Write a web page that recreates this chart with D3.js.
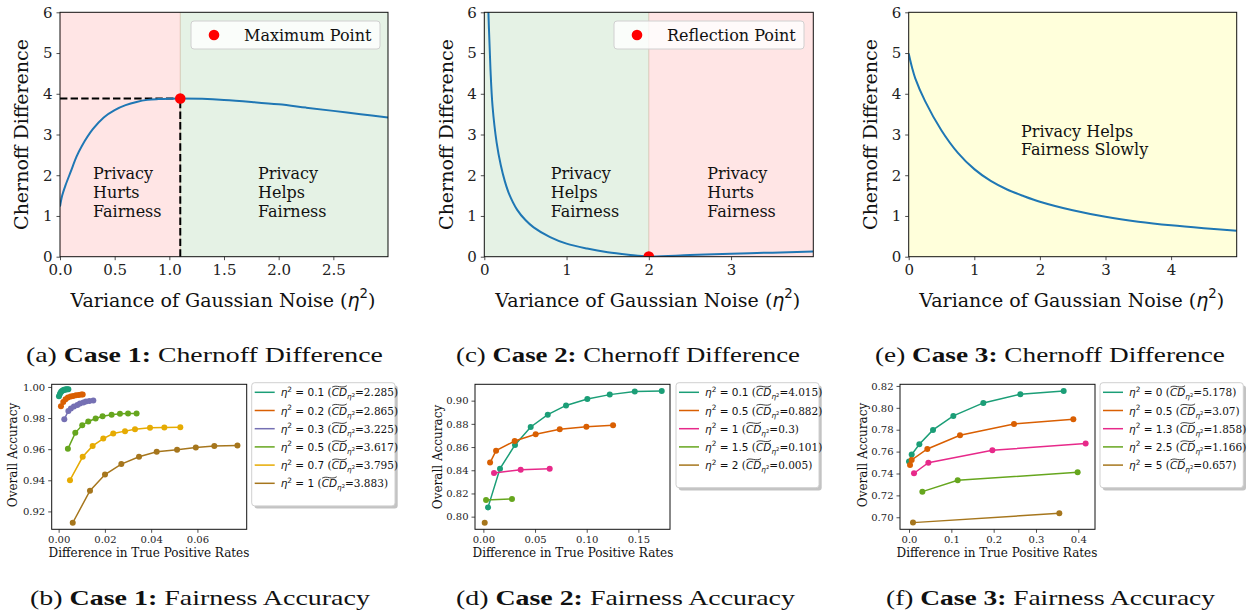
<!DOCTYPE html>
<html>
<head>
<meta charset="utf-8">
<script src="https://cdn.jsdelivr.net/npm/d3@7"></script>
<style>
  body { margin: 0; background: #fff; }
  text { white-space: pre; }
</style>
</head>
<body>
<svg id="fig" width="1249" height="612"></svg>
<script>
// ---- data ----

// (a) case 1 Chernoff difference curve
var caseOneX = [0, 0.02, 0.05, 0.1, 0.15, 0.2, 0.3, 0.4, 0.5, 0.6, 0.7, 0.8, 0.9, 1.0, 1.1, 1.3, 1.5, 1.75, 2.0, 2.25, 2.5, 2.75, 3.0];
var caseOneY = [1.23, 1.5, 1.75, 2.1, 2.45, 2.72, 3.13, 3.42, 3.6, 3.72, 3.8, 3.85, 3.87, 3.88, 3.883, 3.875, 3.85, 3.8, 3.74, 3.66, 3.58, 3.5, 3.42];
var caseOneMax = [1.1, 3.883];

// (c) case 2 Chernoff difference curve
var caseTwoX = [0.03, 0.05, 0.075, 0.1, 0.15, 0.2, 0.25, 0.3, 0.4, 0.5, 0.6, 0.8, 1.0, 1.25, 1.5, 1.75, 2.0, 2.5, 3.0, 3.5, 4.0];
var caseTwoY = [7.5, 6.0, 4.6, 3.7, 2.8, 2.25, 1.85, 1.55, 1.15, 0.9, 0.72, 0.48, 0.32, 0.2, 0.11, 0.05, 0.005, 0.04, 0.075, 0.1, 0.13];
var caseTwoReflect = [2, 0.005];

// (e) case 3 Chernoff difference curve
var caseThreeX = [0, 0.05, 0.1, 0.25, 0.5, 0.75, 1, 1.25, 1.5, 1.75, 2, 2.5, 3, 3.5, 4, 4.5, 5];
var caseThreeY = [4.99, 4.65, 4.38, 3.82, 3.1, 2.55, 2.15, 1.86, 1.65, 1.49, 1.35, 1.14, 0.98, 0.86, 0.77, 0.7, 0.64];

// (b) case 1 fairness / accuracy
var bEta = ["0.1", "0.2", "0.3", "0.5", "0.7", "1"];
var bCD = ["2.285", "2.865", "3.225", "3.617", "3.795", "3.883"];
var bX = [
  [0.00014, 0.00058, 0.001, 0.00144, 0.0019, 0.0023, 0.0027, 0.0032, 0.0036, 0.0042],
  [0.001, 0.002, 0.003, 0.004, 0.0052, 0.0063, 0.0075, 0.0087, 0.0098, 0.0104],
  [0.00245, 0.0042, 0.0053, 0.0066, 0.0081, 0.0092, 0.0107, 0.0118, 0.0133, 0.015],
  [0.004, 0.0072, 0.0102, 0.0128, 0.016, 0.019, 0.0229, 0.0265, 0.03, 0.0337],
  [0.0049, 0.0104, 0.0147, 0.0193, 0.0236, 0.0287, 0.033, 0.0395, 0.0457, 0.0526],
  [0.0061, 0.01355, 0.02004, 0.0271, 0.03475, 0.0424, 0.0512, 0.0593, 0.0673, 0.0773]
];
var bY = [
  [0.994, 0.9957, 0.9968, 0.9974, 0.9979, 0.9981, 0.9983, 0.9983, 0.9985, 0.9985],
  [0.9876, 0.9904, 0.9921, 0.9932, 0.9938, 0.9942, 0.9947, 0.9949, 0.9951, 0.9951],
  [0.9793, 0.9846, 0.9861, 0.9874, 0.9884, 0.9893, 0.99, 0.9906, 0.991, 0.9913],
  [0.9602, 0.9705, 0.9754, 0.9778, 0.9797, 0.9812, 0.9822, 0.9827, 0.9829, 0.9829],
  [0.9401, 0.9551, 0.9621, 0.9668, 0.9701, 0.9716, 0.9728, 0.9737, 0.9739, 0.9741],
  [0.9127, 0.9333, 0.9437, 0.9504, 0.9551, 0.9583, 0.9596, 0.9611, 0.9621, 0.9624]
];
var bColors = ["#1b9e77", "#d95f02", "#7570b3", "#66a61e", "#e6ab02", "#a6761d"];

// (d) case 2 fairness / accuracy
var dEta = ["0.1", "0.5", "1", "1.5", "2"];
var dCD = ["4.015", "0.882", "0.3", "0.101", "0.005"];
var dX = [
  [0.0045, 0.0161, 0.0306, 0.0458, 0.0623, 0.08, 0.1006, 0.1223, 0.1465, 0.1726],
  [0.0065, 0.0123, 0.0303, 0.0506, 0.0739, 0.0997, 0.1255],
  [0.0103, 0.0361, 0.0642],
  [0.0026, 0.0277],
  [0.0013]
];
var dY = [
  [0.808, 0.8414, 0.8618, 0.8773, 0.8879, 0.8959, 0.9014, 0.9052, 0.9078, 0.9083],
  [0.8466, 0.8569, 0.8652, 0.871, 0.8753, 0.8776, 0.8787],
  [0.8376, 0.8405, 0.8414],
  [0.8144, 0.8152],
  [0.7948]
];
var dColors = ["#1b9e77", "#d95f02", "#e7298a", "#66a61e", "#a6761d"];

// (f) case 3 fairness / accuracy
var fEta = ["0", "0.5", "1.3", "2.5", "5"];
var fCD = ["5.178", "3.07", "1.858", "1.166", "0.657"];
var fX = [
  [0.0, 0.0063, 0.0244, 0.0567, 0.1047, 0.1756, 0.263, 0.3654],
  [0.0024, 0.0063, 0.0433, 0.1205, 0.248, 0.3882],
  [0.0118, 0.0457, 0.1969, 0.4173],
  [0.0315, 0.115, 0.3984],
  [0.0094, 0.3551]
];
var fY = [
  [0.7509, 0.7573, 0.7667, 0.7798, 0.7926, 0.8045, 0.8124, 0.8154],
  [0.7478, 0.7524, 0.7624, 0.7749, 0.7853, 0.7895],
  [0.7402, 0.7499, 0.7612, 0.7673],
  [0.7234, 0.7338, 0.7411],
  [0.6951, 0.7036]
];
var fColors = ["#1b9e77", "#d95f02", "#e7298a", "#66a61e", "#a6761d"];

// ---- drawing ----
var serif = "DejaVu Serif", sans = "DejaVu Sans", capFont = "Liberation Serif";
var svg = d3.select("#fig");
var clipCount = 0;

// write a run of text pieces one after another (for the little math bits)
function mathRun(g, x, y, parts, size) {
  var cx = x;
  parts.forEach(function(p) {
    var fs = size * (p.s || 1);
    var t = g.append("text")
      .attr("x", cx).attr("y", y + (p.dy || 0) * size)
      .attr("font-family", p.f || serif)
      .attr("font-size", fs)
      .attr("font-style", p.i ? "italic" : "normal")
      .attr("font-weight", p.b ? "bold" : "normal")
      .attr("fill", "#111")
      .text(p.t);
    var w = t.node().getComputedTextLength();
    if (p.tilde) {
      var ty = y - size * 0.93;
      g.append("path")
        .attr("d", "M" + (cx + 0.5) + "," + (ty + 0.6) +
          " C" + (cx + w * 0.35) + "," + (ty - 2.2) + " " + (cx + w * 0.65) + "," + (ty + 2.6) + " " + (cx + w - 0.3) + "," + (ty - 0.8))
        .attr("fill", "none").attr("stroke", "#111").attr("stroke-width", 0.8);
    }
    cx += w;
  });
  return cx;
}

// centred run; if width is given the run is stretched sideways to it
function centeredRun(x, y, parts, size, width) {
  var g = svg.append("g");
  var w = mathRun(g, 0, 0, parts, size);
  var k = width ? width / w : 1;
  g.attr("transform", "translate(" + (x - w * k / 2) + "," + y + ") scale(" + k + ",1)");
  return g;
}

function etaParts(val, cd) {
  return [
    {t: "η", f: sans, i: true},
    {t: "2", f: sans, s: 0.7, dy: -0.42},
    {t: " = " + val, f: sans},
    {t: " (", f: serif},
    {t: "CD", f: sans, i: true, tilde: true},
    {t: "η", f: sans, i: true, s: 0.7, dy: 0.3},
    {t: "2", f: sans, s: 0.5, dy: 0.02},
    {t: "=" + cd + ")", f: serif}
  ];
}

function styleAxis(ax, size) {
  ax.select(".domain").remove();
  ax.selectAll(".tick line").attr("stroke", "#222").attr("stroke-width", 0.8);
  ax.selectAll(".tick text").attr("font-family", serif).attr("font-size", size).attr("fill", "#222");
}

function frame(g, l, r, t, b) {
  g.append("rect").attr("x", l).attr("y", t).attr("width", r - l).attr("height", b - t)
    .attr("fill", "none").attr("stroke", "#111").attr("stroke-width", 1);
}

function makeClip(l, r, t, b) {
  var id = "clip" + (clipCount++);
  svg.append("clipPath").attr("id", id)
    .append("rect").attr("x", l).attr("y", t).attr("width", r - l).attr("height", b - t);
  return "url(#" + id + ")";
}

// top row: Chernoff difference
var topT = 12.3, topB = 256.7;

function chernoffPanel(cfg) {
  var x = d3.scaleLinear().domain(cfg.xDomain).range([cfg.left, cfg.right]);
  var y = d3.scaleLinear().domain([0, 6]).range([topB, topT]);
  var g = svg.append("g");
  var clip = makeClip(cfg.left, cfg.right, topT, topB);

  cfg.spans.forEach(function(s) {
    g.append("rect")
      .attr("x", x(s[0])).attr("width", x(s[1]) - x(s[0]))
      .attr("y", topT).attr("height", topB - topT)
      .attr("fill", s[2]).attr("fill-opacity", s[3])
      .attr("stroke", s[2]).attr("stroke-opacity", s[3]).attr("stroke-width", 1)
      .attr("clip-path", clip);
  });

  cfg.notes.forEach(function(n) {
    n.lines.forEach(function(line, i) {
      g.append("text").attr("x", n.x).attr("y", n.y + i * 18.7)
        .attr("font-family", serif).attr("font-size", 16).attr("fill", "#111").text(line);
    });
  });

  if (cfg.guide) {
    var gx = cfg.guide[0], gy = cfg.guide[1];
    g.append("line").attr("x1", x(0)).attr("x2", x(gx)).attr("y1", y(gy)).attr("y2", y(gy))
      .attr("stroke", "#000").attr("stroke-width", 2).attr("stroke-dasharray", "7.4,3.2");
    g.append("line").attr("x1", x(gx)).attr("x2", x(gx)).attr("y1", y(0)).attr("y2", y(gy))
      .attr("stroke", "#000").attr("stroke-width", 2).attr("stroke-dasharray", "7.4,3.2");
  }

  var line = d3.line()
    .x(function(d) { return x(d[0]); })
    .y(function(d) { return y(d[1]); })
    .curve(d3.curveCatmullRom.alpha(0.5));
  g.append("path").datum(d3.zip(cfg.xs, cfg.ys))
    .attr("d", line).attr("fill", "none")
    .attr("stroke", "#1f77b4").attr("stroke-width", 2).attr("clip-path", clip);

  if (cfg.point) {
    g.append("circle").attr("cx", x(cfg.point[0])).attr("cy", y(cfg.point[1])).attr("r", 5.3)
      .attr("fill", "#ff0000").attr("clip-path", clip);
  }

  frame(g, cfg.left, cfg.right, topT, topB);

  var xa = g.append("g").attr("transform", "translate(0," + topB + ")")
    .call(d3.axisBottom(x).tickValues(cfg.xTicks).tickFormat(d3.format(cfg.fmt)).tickSize(3.5).tickPadding(4));
  styleAxis(xa, 15);
  var ya = g.append("g").attr("transform", "translate(" + cfg.left + ",0)")
    .call(d3.axisLeft(y).tickValues([0, 1, 2, 3, 4, 5, 6]).tickFormat(d3.format("d")).tickSize(3.5).tickPadding(4));
  styleAxis(ya, 15);

  if (cfg.legend) {
    var lg = g.append("g");
    lg.append("rect").attr("x", cfg.legend.x).attr("y", 21).attr("width", cfg.legend.w).attr("height", 28)
      .attr("rx", 3).attr("fill", "#fff").attr("fill-opacity", 0.8).attr("stroke", "#d0d0d0");
    lg.append("circle").attr("cx", cfg.legend.x + 23).attr("cy", 35).attr("r", 5.3).attr("fill", "#ff0000");
    lg.append("text").attr("x", cfg.legend.x + 53).attr("y", 40.5)
      .attr("font-family", serif).attr("font-size", 16).attr("fill", "#111").text(cfg.legend.label);
  }

  g.append("text")
    .attr("transform", "translate(" + cfg.yLabelX + "," + (topT + topB) / 2 + ") rotate(-90)")
    .attr("text-anchor", "middle").attr("dominant-baseline", "central")
    .attr("font-family", serif).attr("font-size", 19).attr("fill", "#111")
    .text("Chernoff Difference");

  centeredRun((cfg.left + cfg.right) / 2 + cfg.xLabelShift, 307, [
    {t: "Variance of Gaussian Noise (", f: serif},
    {t: "η", f: sans, i: true},
    {t: "2", f: sans, s: 0.7, dy: -0.45},
    {t: ")", f: serif}
  ], 19);
}

chernoffPanel({
  left: 60, right: 388, xDomain: [0, 3], xTicks: [0, 0.5, 1, 1.5, 2, 2.5], fmt: ".1f",
  xs: caseOneX, ys: caseOneY,
  spans: [[0, caseOneMax[0], "#ff0000", 0.1], [caseOneMax[0], 3, "#008000", 0.1]],
  notes: [{x: 93, y: 179.3, lines: ["Privacy", "Hurts", "Fairness"]},
          {x: 258, y: 179.3, lines: ["Privacy", "Helps", "Fairness"]}],
  guide: caseOneMax, point: caseOneMax,
  legend: {x: 191, w: 189, label: "Maximum Point"},
  yLabelX: 21, xLabelShift: -1
});

chernoffPanel({
  left: 484.3, right: 813.3, xDomain: [0, 4], xTicks: [0, 1, 2, 3], fmt: "d",
  xs: caseTwoX, ys: caseTwoY,
  spans: [[0, caseTwoReflect[0], "#008000", 0.1], [caseTwoReflect[0], 4, "#ff0000", 0.1]],
  notes: [{x: 550.7, y: 179.3, lines: ["Privacy", "Helps", "Fairness"]},
          {x: 707.3, y: 179.3, lines: ["Privacy", "Hurts", "Fairness"]}],
  point: caseTwoReflect,
  legend: {x: 614, w: 190, label: "Reflection Point"},
  yLabelX: 446, xLabelShift: -1
});

chernoffPanel({
  left: 908.7, right: 1236.7, xDomain: [0, 5], xTicks: [0, 1, 2, 3, 4], fmt: "d",
  xs: caseThreeX, ys: caseThreeY,
  spans: [[0, 5, "#ffff00", 0.14]],
  notes: [{x: 1021, y: 136.7, lines: ["Privacy Helps", "Fairness Slowly"]}],
  yLabelX: 869.5, xLabelShift: -1
});

// bottom row: fairness vs accuracy
var botT = 384.3, botB = 529.3;

function accuracyPanel(cfg) {
  var x = d3.scaleLinear().domain(cfg.xDomain).range([cfg.left, cfg.right]);
  var y = d3.scaleLinear().domain(cfg.yDomain).range([botB, botT]);
  var g = svg.append("g");
  var clip = makeClip(cfg.left - 4, cfg.right + 4, botT - 4, botB + 4);

  var line = d3.line()
    .x(function(d) { return x(d[0]); })
    .y(function(d) { return y(d[1]); });

  cfg.xs.forEach(function(xs, i) {
    var pts = d3.zip(xs, cfg.ys[i]);
    g.append("path").datum(pts).attr("d", line).attr("fill", "none")
      .attr("stroke", cfg.colors[i]).attr("stroke-width", 1.5).attr("clip-path", clip);
    g.selectAll(null).data(pts).enter().append("circle")
      .attr("cx", function(d) { return x(d[0]); })
      .attr("cy", function(d) { return y(d[1]); })
      .attr("r", 3).attr("fill", cfg.colors[i]).attr("clip-path", clip);
  });

  frame(g, cfg.left, cfg.right, botT, botB);

  var xa = g.append("g").attr("transform", "translate(0," + botB + ")")
    .call(d3.axisBottom(x).tickValues(cfg.xTicks).tickFormat(d3.format(cfg.xFmt)).tickSize(3.5).tickPadding(3));
  styleAxis(xa, 10);
  var ya = g.append("g").attr("transform", "translate(" + cfg.left + ",0)")
    .call(d3.axisLeft(y).tickValues(cfg.yTicks).tickFormat(d3.format(".2f")).tickSize(3.5).tickPadding(3));
  styleAxis(ya, 10);

  g.append("text")
    .attr("transform", "translate(" + cfg.yLabelX + "," + cfg.yLabelY + ") rotate(-90)")
    .attr("text-anchor", "middle").attr("dominant-baseline", "central")
    .attr("font-family", serif).attr("font-size", 12).attr("fill", "#111")
    .text("Overall Accuracy");
  g.append("text")
    .attr("x", cfg.xLabelX).attr("y", 557)
    .attr("text-anchor", "middle")
    .attr("font-family", serif).attr("font-size", 12).attr("fill", "#111")
    .text("Difference in True Positive Rates");

  // legend with shadow
  var lx = cfg.legendX, ly = 382.7, lh = 14 + cfg.etas.length * 18.2, lw = cfg.legendW;
  g.append("rect").attr("x", lx + 2.7).attr("y", ly + 2.7).attr("width", lw).attr("height", lh)
    .attr("rx", 3).attr("fill", "#888").attr("fill-opacity", 0.5);
  g.append("rect").attr("x", lx).attr("y", ly).attr("width", lw).attr("height", lh)
    .attr("rx", 3).attr("fill", "#fff").attr("stroke", "#d0d0d0");
  cfg.etas.forEach(function(eta, i) {
    var ry = 392.3 + i * 18.2;
    g.append("line").attr("x1", lx + 3).attr("x2", lx + 23).attr("y1", ry).attr("y2", ry)
      .attr("stroke", cfg.colors[i]).attr("stroke-width", 1.5);
    mathRun(g, lx + 29, ry + 4, etaParts(eta, cfg.cds[i]), 10.5);
  });
}

accuracyPanel({
  left: 51.7, right: 246.7, xDomain: [-0.003, 0.0813], yDomain: [0.9085, 1.0017],
  xTicks: [0, 0.02, 0.04, 0.06], xFmt: ".2f", yTicks: [0.92, 0.94, 0.96, 0.98, 1.00],
  xs: bX, ys: bY, colors: bColors, etas: bEta, cds: bCD,
  legendX: 251.7, legendW: 143.3, yLabelX: 13.3, yLabelY: 455, xLabelX: 149
});

accuracyPanel({
  left: 475, right: 670, xDomain: [-0.0081, 0.1806], yDomain: [0.7891, 0.9141],
  xTicks: [0, 0.05, 0.1, 0.15], xFmt: ".2f", yTicks: [0.80, 0.82, 0.84, 0.86, 0.88, 0.90],
  xs: dX, ys: dY, colors: dColors, etas: dEta, cds: dCD,
  legendX: 676, legendW: 143, yLabelX: 438.3, yLabelY: 457, xLabelX: 573
});

accuracyPanel({
  left: 900, right: 1095, xDomain: [-0.0213, 0.4394], yDomain: [0.689, 0.8215],
  xTicks: [0, 0.1, 0.2, 0.3, 0.4], xFmt: ".1f", yTicks: [0.70, 0.72, 0.74, 0.76, 0.78, 0.80, 0.82],
  xs: fX, ys: fY, colors: fColors, etas: fEta, cds: fCD,
  legendX: 1100, legendW: 143.3, yLabelX: 862.5, yLabelY: 455, xLabelX: 997
});

// sub-figure captions
var captions = [
  {x: 204.5, y: 362, w: 357, tag: "(a) ", bold: "Case 1:", rest: " Chernoff Difference"},
  {x: 628, y: 362, w: 344, tag: "(c) ", bold: "Case 2:", rest: " Chernoff Difference"},
  {x: 1050, y: 362, w: 350, tag: "(e) ", bold: "Case 3:", rest: " Chernoff Difference"},
  {x: 200, y: 605, w: 340, tag: "(b) ", bold: "Case 1:", rest: " Fairness Accuracy"},
  {x: 625.5, y: 605, w: 339, tag: "(d) ", bold: "Case 2:", rest: " Fairness Accuracy"},
  {x: 1050.5, y: 605, w: 329, tag: "(f) ", bold: "Case 3:", rest: " Fairness Accuracy"}
];
captions.forEach(function(c) {
  centeredRun(c.x, c.y, [
    {t: c.tag, f: capFont},
    {t: c.bold, f: capFont, b: true},
    {t: c.rest, f: capFont}
  ], 22, c.w);
});
</script>
</body>
</html>
